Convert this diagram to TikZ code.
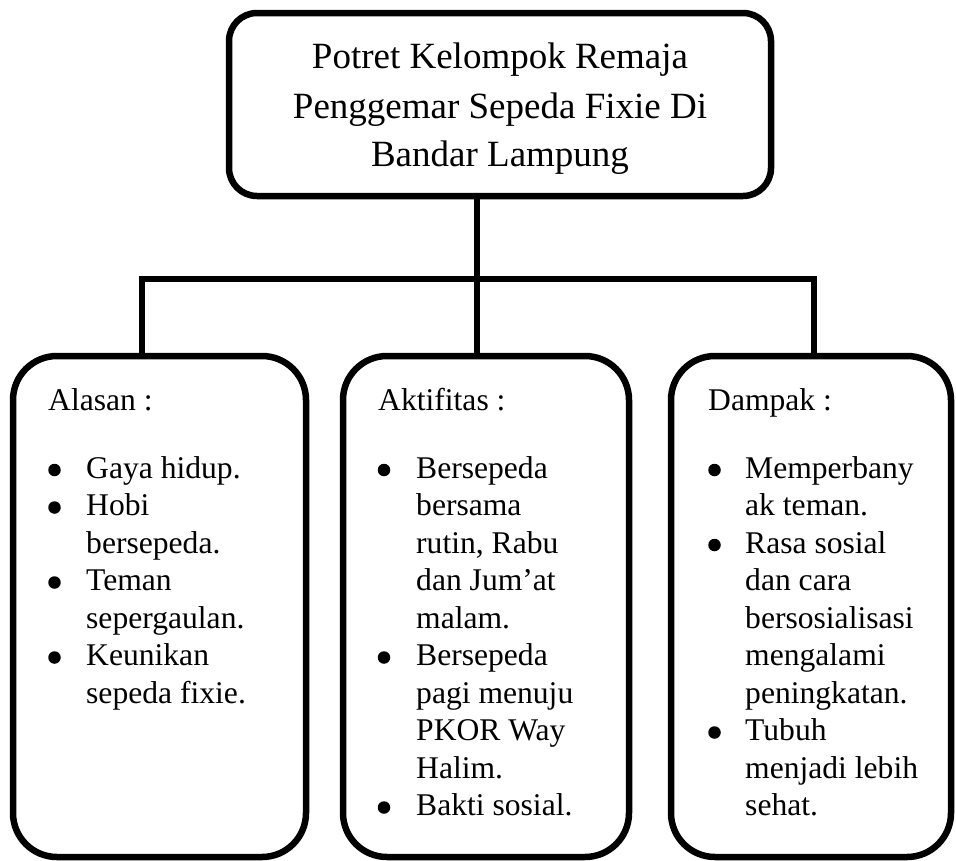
\documentclass[tikz,border=0pt]{standalone}
\usepackage{fontspec}
\setmainfont{Liberation Serif}[Ligatures=NoCommon]
\newcommand\txtline[4]{\node[tline] (#1) at (#2,#3) {#4};}
\newcommand\bulat[3]{\node[bulletdot] (#1) at (#2,#3) {};}
\begin{document}
\begin{tikzpicture}[x=1pt,y=-1pt,
  box/.style={draw=black,line width=6.5pt,rounded corners=44pt,inner sep=0pt,fill=none},
  topbox/.style={box,rounded corners=28pt},
  conn/.style={draw=black,line width=6.5pt,line join=miter},
  tline/.style={anchor=base west,inner sep=0pt,font=\fontsize{31.6}{37.5}\selectfont},
  ttitle/.style={anchor=base,inner sep=0pt,font=\fontsize{37}{49}\selectfont},
  bulletdot/.style={circle,fill=black,inner sep=0pt,minimum size=12.5pt}]
\useasboundingbox (0,0) rectangle (956,860);
% boxes
\node[topbox,minimum width=542pt,minimum height=183pt] (top) at (500,104.5) {};
\node[box,minimum width=293pt,minimum height=501pt] (L) at (159.5,606.5) {};
\node[box,minimum width=286pt,minimum height=501pt] (M) at (486,606.5) {};
\node[box,minimum width=280pt,minimum height=501pt] (R) at (811,606.5) {};
% connectors
\coordinate (jl) at (142,279);
\coordinate (jm) at (477,279);
\coordinate (jr) at (814,279);
\draw[conn] (top.south -| jm) -- (jm |- M.north);
\draw[conn] (jl |- L.north) -- (jl) -- (jr) -- (jr |- R.north);
% title
\node[ttitle] (t1) at (500,68) {Potret Kelompok Remaja};
\node[ttitle] (t2) at (500,118) {Penggemar Sepeda Fixie Di};
\node[ttitle] (t3) at (500,166) {Bandar Lampung};
% headings
\txtline{hl}{48}{410}{Alasan :}
\txtline{hm}{378}{410}{Aktifitas :}
\txtline{hr}{708}{410}{Dampak :}
% left column
\bulat{bl0}{54.5}{470}
\txtline{l0}{86}{478}{Gaya hidup.}
\bulat{bl1}{54.5}{507.5}
\txtline{l1}{86}{515.5}{Hobi}
\txtline{l2}{86}{553}{bersepeda.}
\bulat{bl3}{54.5}{582.5}
\txtline{l3}{86}{590.5}{Teman}
\txtline{l4}{86}{628}{sepergaulan.}
\bulat{bl5}{54.5}{657.5}
\txtline{l5}{86}{665.5}{Keunikan}
\txtline{l6}{86}{703}{sepeda fixie.}
% middle column
\bulat{bm0}{384}{470}
\txtline{m0}{416}{478}{Bersepeda}
\txtline{m1}{416}{515.5}{bersama}
\txtline{m2}{416}{553}{rutin, Rabu}
\txtline{m3}{416}{590.5}{dan Jum’at}
\txtline{m4}{416}{628}{malam.}
\bulat{bm5}{384}{657.5}
\txtline{m5}{416}{665.5}{Bersepeda}
\txtline{m6}{416}{703}{pagi menuju}
\txtline{m7}{416}{740.5}{PKOR Way}
\txtline{m8}{416}{778}{Halim.}
\bulat{bm9}{384}{807.5}
\txtline{m9}{416}{815.5}{Bakti sosial.}
% right column
\bulat{br0}{714.5}{470}
\txtline{r0}{745}{478}{Memperbany}
\txtline{r1}{745}{515.5}{ak teman.}
\bulat{br2}{714.5}{545}
\txtline{r2}{745}{553}{Rasa sosial}
\txtline{r3}{745}{590.5}{dan cara}
\txtline{r4}{745}{628}{bersosialisasi}
\txtline{r5}{745}{665.5}{mengalami}
\txtline{r6}{745}{703}{peningkatan.}
\bulat{br7}{714.5}{732.5}
\txtline{r7}{745}{740.5}{Tubuh}
\txtline{r8}{745}{778}{menjadi lebih}
\txtline{r9}{745}{815.5}{sehat.}
\end{tikzpicture}
\end{document}
